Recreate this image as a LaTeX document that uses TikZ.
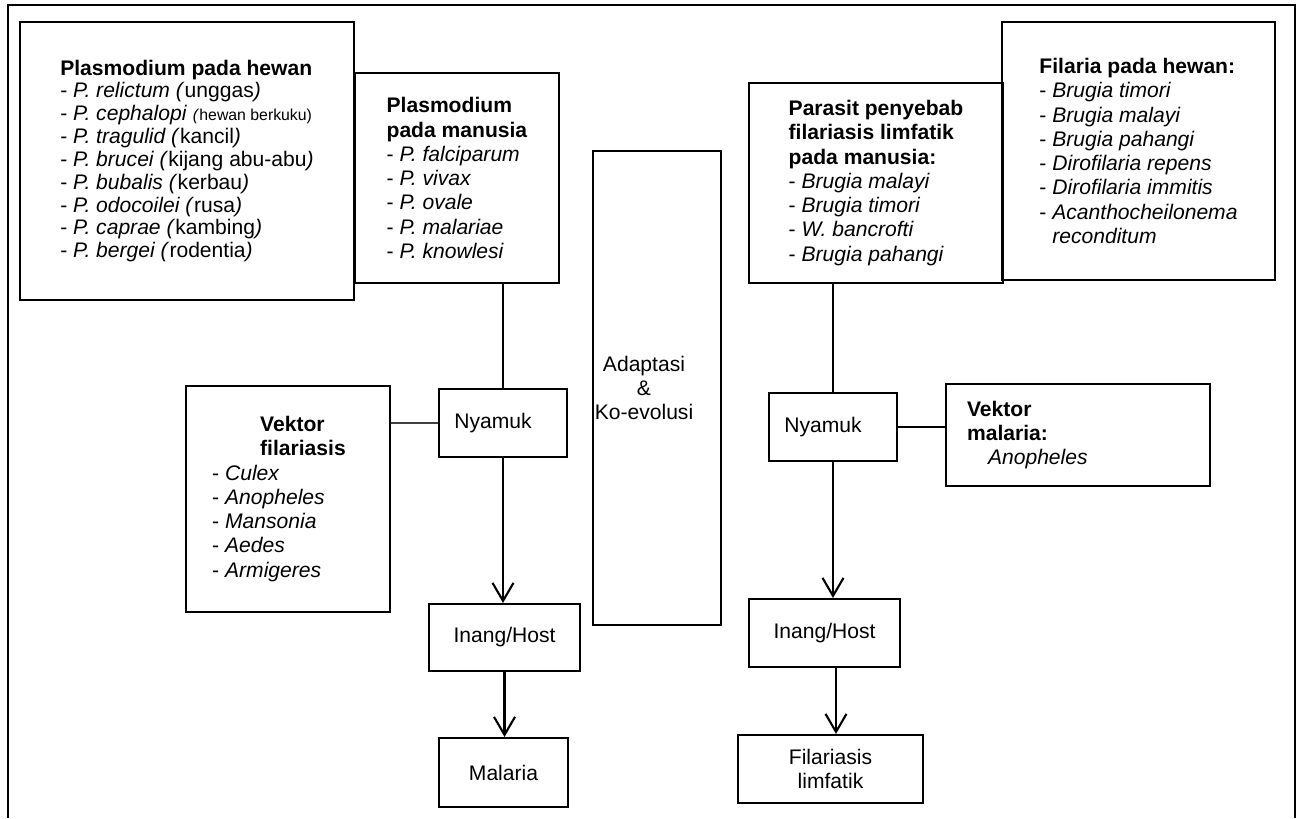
\documentclass[tikz,border=0pt]{standalone}
\usepackage{fontspec}
\setmainfont{Liberation Sans}
\usetikzlibrary{arrows.meta}
\tikzset{
  box/.style = {rectangle, draw=black, line width=1.2pt, inner sep=0pt},% kotak biasa
  listbox/.style = {box, align=left},% kotak berisi daftar
  link/.style = {line width=1.2pt},
  thinlink/.style = {line width=0.6pt, black!75},
  flow/.style = {link, -{Straight Barb[length=0.36cm, width=0.42cm, line width=1.2pt]}}
}
\newcommand{\hostitem}[2]{- \textit{#1 (}#2\textit{)}}

\begin{document}
\begin{tikzpicture}[x=0.02cm, y=-0.02cm, font=\fontsize{12}{13.8}\selectfont]
  \useasboundingbox (0,0) rectangle (1301,818);
  \draw [line width=1.4pt] (8,818) -- (8,5) -- (1295,5) -- (1295,818);
  % malaria
  \node [listbox, minimum width=6.68cm, minimum height=5.56cm,
    font=\fontsize{12}{13}\selectfont] (plasH) at (187,161)
    {\textbf{Plasmodium pada hewan}\\
     \hostitem{P. relictum}{unggas}\\
     - \textit{P. cephalopi} {\fontsize{9}{10}\selectfont\textit{(}hewan berkuku)}\\
     \hostitem{P. tragulid}{kancil}\\
     \hostitem{P. brucei}{kijang abu-abu}\\
     \hostitem{P. bubalis}{kerbau}\\
     \hostitem{P. odocoilei}{rusa}\\
     \hostitem{P. caprae}{kambing}\\
     \hostitem{P. bergei}{rodentia}};
  \node [listbox, fill=white, minimum width=4.08cm, minimum height=4.2cm] (plasM) at (457,178)
    {\textbf{Plasmodium}\\ \textbf{pada manusia}\\
     - \textit{P. falciparum}\\ - \textit{P. vivax}\\ - \textit{P. ovale}\\
     - \textit{P. malariae}\\ - \textit{P. knowlesi}};
  \node [box, minimum width=2.56cm, minimum height=1.36cm] (nyamukL) at (503,423) {Nyamuk\hspace*{0.4cm}};
  \node [listbox, minimum width=4.08cm, minimum height=4.52cm] (vekF) at (288,499)
    {\hspace*{0.96cm}\textbf{Vektor}\\ \hspace*{0.96cm}\textbf{filariasis}\rule{0.36cm}{0pt}\\
     - \textit{Culex}\\ - \textit{Anopheles}\\ - \textit{Mansonia}\\
     - \textit{Aedes}\\ - \textit{Armigeres}};
  \node [box, minimum width=3.02cm, minimum height=1.34cm] (inangL) at (504.5,637.5) {Inang/Host};
  \node [box, minimum width=2.58cm, minimum height=1.38cm] (malaria) at (503.5,772.5) {Malaria};
  % tengah
  \node [box, minimum width=2.56cm, minimum height=9.48cm,
    label={[align=center, xshift=-0.26cm]center:{Adaptasi\\ \&\\ Ko-evolusi}}] (adapt) at (657,388) {};
  % filariasis
  \node [listbox, minimum width=5.08cm, minimum height=4.0cm] (parasit) at (876,183)
    {\textbf{Parasit penyebab}\\ \textbf{filariasis limfatik}\\ \textbf{pada manusia:}\\
     - \textit{Brugia malayi}\\ - \textit{Brugia timori}\\ - \textit{W. bancrofti}\\
     - \textit{Brugia pahangi}};
  \node [listbox, minimum width=5.46cm, minimum height=5.16cm] (filH) at (1138.5,151)
    {\textbf{Filaria pada hewan:}\\
     - \textit{Brugia timori}\\ - \textit{Brugia malayi}\\ - \textit{Brugia pahangi}\\
     - \textit{Dirofilaria repens}\\ - \textit{Dirofilaria immitis}\\
     - \textit{Acanthocheilonema}\\ \hphantom{- }\textit{reconditum}};
  \node [box, minimum width=2.56cm, minimum height=1.36cm] (nyamukR) at (833,427) {Nyamuk\hspace*{0.4cm}};
  \node [listbox, text width=4.44cm, minimum width=5.28cm, minimum height=2.04cm] (vekM) at (1078,435)
    {\textbf{Vektor}\\ \textbf{malaria:}\\ \hspace*{0.42cm}\textit{Anopheles}};
  \node [box, minimum width=3.02cm, minimum height=1.36cm] (inangR) at (824.5,633) {Inang/Host};
  \node [box, align=center, minimum width=3.7cm, minimum height=1.36cm] (filL) at (830.5,769)
    {Filariasis\\ limfatik};
  % garis
  \draw [link] (nyamukL.north |- plasM.south) -- (nyamukL.north);
  \draw [thinlink] (vekF.east |- nyamukL.west) -- (nyamukL.west);
  \draw [flow] (nyamukL.south) -- (nyamukL.south |- inangL.north);
  \draw [flow] (inangL.south) -- (inangL.south |- malaria.north);
  \draw [link] (nyamukR.north |- parasit.south) -- (nyamukR.north);
  \draw [link] (nyamukR.east) -- (nyamukR.east -| vekM.west);
  \draw [flow] (nyamukR.south) -- (nyamukR.south |- inangR.north);
  \draw [flow] ([xshift=0.23cm]inangR.south) -- ([xshift=0.23cm]inangR.south |- filL.north);
\end{tikzpicture}
\end{document}
